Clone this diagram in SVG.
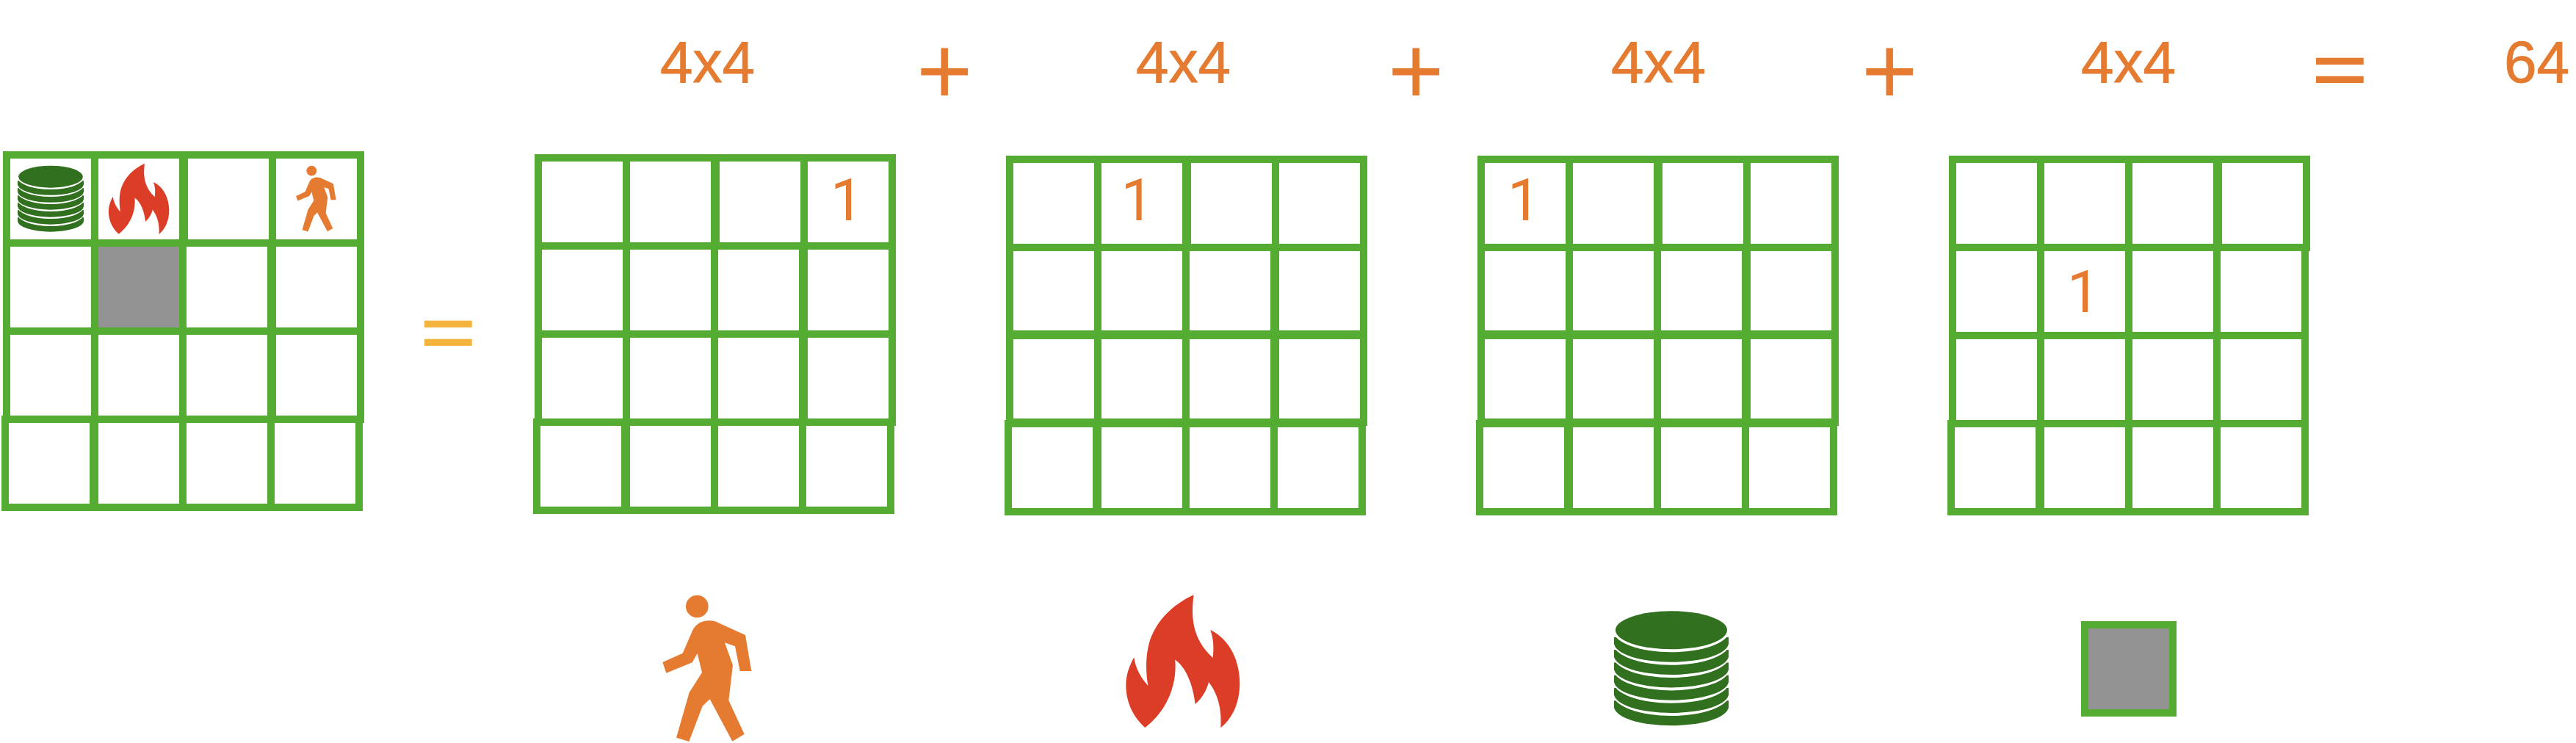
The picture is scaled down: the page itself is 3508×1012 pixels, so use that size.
<svg xmlns="http://www.w3.org/2000/svg" width="3508" height="1012" viewBox="0 0 3508 1012">
<style>
.cell{fill:none;stroke:#54AD32;stroke-width:10}
.blocked{fill:#939393;stroke:#54AD32;stroke-width:10}
.t{font-family:"Liberation Sans",Arial,sans-serif;fill:#E47B30;stroke:#E47B30;stroke-width:.9;font-size:80px}
.one{font-family:Roboto,"Liberation Sans",sans-serif;fill:#E47B30;font-size:79px}
.op{font-family:"Liberation Sans",Arial,sans-serif;fill:#E47B30;font-size:131px}
.eqo{font-family:"Liberation Sans",Arial,sans-serif;fill:#E47B30;stroke:#E47B30;stroke-width:2;font-size:100px}
.eqy{font-family:"Liberation Sans",Arial,sans-serif;fill:#F3B33D;stroke:#F3B33D;stroke-width:2;font-size:100px}
.dark{fill:#31701E}
.gap{fill:#fff}
</style>
<defs>
<g id="man" fill="#E47B30">
<circle cx="328" cy="138" r="46"/>
<path d="M310 235C325 205 360 188 405 200L525 255L550 402L503 402L483 301L441 286L474 378L457 522L521 660L472 689L380 517L350 545L295 690L243 674L296 490L348 408L329 330L308 367L202 410L187 366L269 329Z"/>
</g>
<path id="flame" fill="#DC3D27" d="M437 91C425 180 430 270 515 348C520 300 517 270 505 234C590 275 625 370 625 450C625 540 590 600 547 634C552 570 540 500 498 447C490 480 470 515 443 537C435 460 405 385 361 356C370 470 320 570 238 633C190 590 160 530 160 460C160 420 172 385 193 346C200 395 222 430 250 462C240 400 241 340 254 290C280 200 350 130 437 91Z"/>
<g id="disc"><rect class="dark" x="-78" y="-8" width="156" height="10"/><ellipse class="dark" cx="0" cy="0" rx="78" ry="26"/></g>
<ellipse id="discgap" class="gap" cx="0" cy="0" rx="79.5" ry="30"/>
<g id="stack">
<use href="#disc" y="130"/><use href="#discgap" y="112.7"/>
<use href="#disc" y="112.7"/><use href="#discgap" y="95.4"/>
<use href="#disc" y="95.4"/><use href="#discgap" y="78.1"/>
<use href="#disc" y="78.1"/><use href="#discgap" y="60.8"/>
<use href="#disc" y="60.8"/><use href="#discgap" y="43.5"/>
<use href="#disc" y="43.5"/><use href="#discgap" y="26"/>
<ellipse class="dark" cx="0" cy="26" rx="76" ry="26"/>
</g>
</defs>

<g id="grid-state">
<rect class="cell" x="9" y="211" width="120" height="120"/><rect class="cell" x="129" y="211" width="120" height="120"/><rect class="cell" x="251" y="211" width="120" height="120"/><rect class="cell" x="371" y="211" width="120" height="120"/>
<rect class="cell" x="9" y="331" width="120" height="120"/><rect class="blocked" x="129" y="331" width="120" height="120"/><rect class="cell" x="249" y="331" width="120" height="120"/><rect class="cell" x="371" y="331" width="120" height="120"/>
<rect class="cell" x="9" y="451" width="120" height="120"/><rect class="cell" x="129" y="451" width="120" height="120"/><rect class="cell" x="249" y="451" width="120" height="120"/><rect class="cell" x="371" y="451" width="120" height="120"/>
<rect class="cell" x="7" y="571" width="120" height="120"/><rect class="cell" x="129" y="571" width="120" height="120"/><rect class="cell" x="249" y="571" width="120" height="120"/><rect class="cell" x="369" y="571" width="120" height="120"/>
<use href="#stack" transform="translate(69 225.7) scale(.577)"/>
<use href="#flame" transform="translate(119.5 206.5) scale(.1773)"/>
<use href="#man" transform="translate(375.1 212) scale(.15)"/>
</g>

<g id="equals-main"><text class="eqy" transform="translate(573 487) scale(1.28 1)">=</text></g>

<g id="grid-agent">
<rect class="cell" x="733" y="215" width="120" height="120"/><rect class="cell" x="853" y="215" width="120" height="120"/><rect class="cell" x="975" y="215" width="120" height="120"/><rect class="cell" x="1095" y="215" width="120" height="120"/>
<rect class="cell" x="733" y="335" width="120" height="120"/><rect class="cell" x="853" y="335" width="120" height="120"/><rect class="cell" x="973" y="335" width="120" height="120"/><rect class="cell" x="1095" y="335" width="120" height="120"/>
<rect class="cell" x="733" y="455" width="120" height="120"/><rect class="cell" x="853" y="455" width="120" height="120"/><rect class="cell" x="973" y="455" width="120" height="120"/><rect class="cell" x="1095" y="455" width="120" height="120"/>
<rect class="cell" x="731" y="575" width="120" height="120"/><rect class="cell" x="853" y="575" width="120" height="120"/><rect class="cell" x="973" y="575" width="120" height="120"/><rect class="cell" x="1093" y="575" width="120" height="120"/>
<text class="one" x="1131" y="300">1</text>
</g>

<g id="grid-fire">
<rect class="cell" x="1375" y="217" width="120" height="120"/><rect class="cell" x="1495" y="217" width="120" height="120"/><rect class="cell" x="1617" y="217" width="120" height="120"/><rect class="cell" x="1737" y="217" width="120" height="120"/>
<rect class="cell" x="1375" y="337" width="120" height="120"/><rect class="cell" x="1495" y="337" width="120" height="120"/><rect class="cell" x="1615" y="337" width="120" height="120"/><rect class="cell" x="1737" y="337" width="120" height="120"/>
<rect class="cell" x="1375" y="455" width="120" height="120"/><rect class="cell" x="1495" y="455" width="120" height="120"/><rect class="cell" x="1615" y="455" width="120" height="120"/><rect class="cell" x="1737" y="455" width="120" height="120"/>
<rect class="cell" x="1373" y="577" width="120" height="120"/><rect class="cell" x="1495" y="577" width="120" height="120"/><rect class="cell" x="1615" y="577" width="120" height="120"/><rect class="cell" x="1735" y="577" width="120" height="120"/>
<text class="one" x="1526.5" y="300">1</text>
</g>

<g id="grid-gold">
<rect class="cell" x="2017" y="217" width="120" height="120"/><rect class="cell" x="2137" y="217" width="120" height="120"/><rect class="cell" x="2259" y="217" width="120" height="120"/><rect class="cell" x="2379" y="217" width="120" height="120"/>
<rect class="cell" x="2017" y="337" width="120" height="120"/><rect class="cell" x="2137" y="337" width="120" height="120"/><rect class="cell" x="2257" y="337" width="120" height="120"/><rect class="cell" x="2379" y="337" width="120" height="120"/>
<rect class="cell" x="2017" y="455" width="120" height="120"/><rect class="cell" x="2137" y="455" width="120" height="120"/><rect class="cell" x="2257" y="455" width="120" height="120"/><rect class="cell" x="2379" y="455" width="120" height="120"/>
<rect class="cell" x="2015" y="577" width="120" height="120"/><rect class="cell" x="2137" y="577" width="120" height="120"/><rect class="cell" x="2257" y="577" width="120" height="120"/><rect class="cell" x="2377" y="577" width="120" height="120"/>
<text class="one" x="2053" y="300">1</text>
</g>

<g id="grid-wall">
<rect class="cell" x="2659" y="217" width="120" height="120"/><rect class="cell" x="2779" y="217" width="120" height="120"/><rect class="cell" x="2899" y="217" width="120" height="120"/><rect class="cell" x="3021" y="217" width="120" height="120"/>
<rect class="cell" x="2659" y="337" width="120" height="120"/><rect class="cell" x="2779" y="337" width="120" height="120"/><rect class="cell" x="2899" y="337" width="120" height="120"/><rect class="cell" x="3019" y="337" width="120" height="120"/>
<rect class="cell" x="2659" y="457" width="120" height="120"/><rect class="cell" x="2779" y="457" width="120" height="120"/><rect class="cell" x="2899" y="457" width="120" height="120"/><rect class="cell" x="3019" y="457" width="120" height="120"/>
<rect class="cell" x="2657" y="577" width="120" height="120"/><rect class="cell" x="2779" y="577" width="120" height="120"/><rect class="cell" x="2899" y="577" width="120" height="120"/><rect class="cell" x="3019" y="577" width="120" height="120"/>
<text class="one" x="2815" y="425">1</text>
</g>

<g id="equation">
<text class="t" x="899" y="112">4x4</text>
<text class="op" x="1248" y="142">+</text>
<text class="t" x="1547" y="112">4x4</text>
<text class="op" x="1890" y="142">+</text>
<text class="t" x="2194" y="112">4x4</text>
<text class="op" x="2535" y="142">+</text>
<text class="t" x="2834" y="112">4x4</text>
<text class="eqo" transform="translate(3149 128.6) scale(1.28 1)">=</text>
<text class="t" x="3410" y="112">64</text>
</g>

<g id="legend-agent"><use href="#man" transform="translate(840 780) scale(.3333)"/></g>
<g id="legend-fire"><use href="#flame" transform="translate(1480 780) scale(.3333)"/></g>
<g id="legend-gold"><use href="#stack" transform="translate(2276 832.3)"/></g>
<g id="legend-wall"><rect class="blocked" x="2839" y="851" width="120" height="120"/></g>
</svg>
